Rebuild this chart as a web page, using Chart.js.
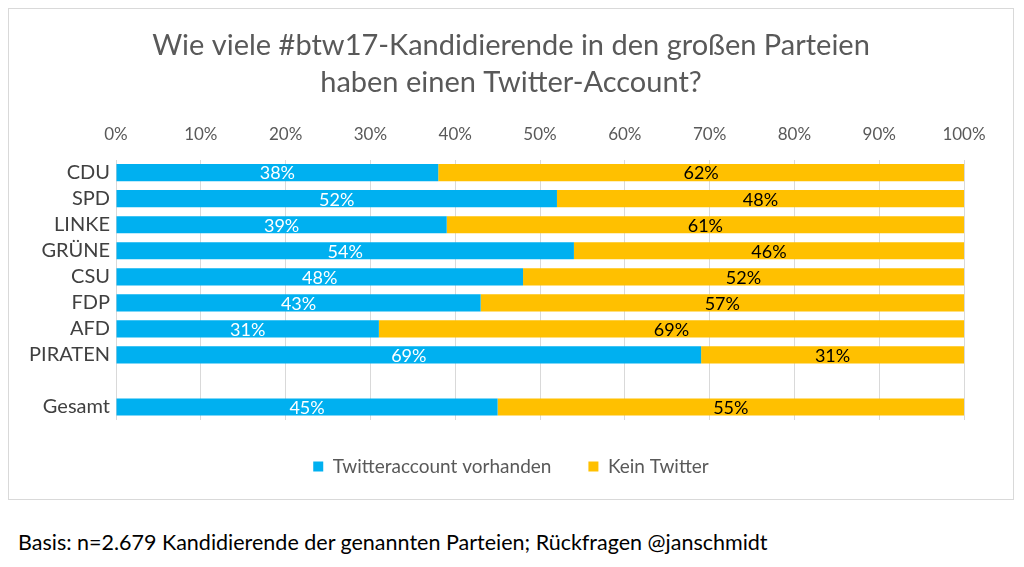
<!DOCTYPE html>
<html>
<head>
<meta charset="utf-8">
<script src="https://cdn.jsdelivr.net/npm/chart.js@4.4.0/dist/chart.umd.min.js"></script>
<style>
    body { margin: 0; background: #fff; width: 1024px; height: 567px; overflow: hidden; font-family: Lato, sans-serif; }
    #box { position: absolute; left: 8px; top: 8px; width: 1004px; height: 490px; border: 1px solid #d9d9d9; }
    #note { position: absolute; left: 18px; top: 529px; font-size: 21.5px; color: #000; }
</style>
</head>
<body>
<div id="box"><canvas id="bar-chart" width="1004" height="490"></canvas></div>
<div id="note">Basis: n=2.679 Kandidierende der genannten Parteien; Rückfragen @janschmidt</div>
<script>
var parties = ['CDU', 'SPD', 'LINKE', 'GRÜNE', 'CSU', 'FDP', 'AFD', 'PIRATEN', '', 'Gesamt'];
var withTwitter = [38, 52, 39, 54, 48, 43, 31, 69, null, 45];
var noTwitter = [62, 48, 61, 46, 52, 57, 69, 31, null, 55];
var xTicks = [0, 10, 20, 30, 40, 50, 60, 70, 80, 90, 100];

var labelColors = ['#ffffff', '#000000'];

// writes the % value in the middle of each bar
var barLabels = {
    id: 'barLabels',
    afterDatasetsDraw(chart) {
        var ctx = chart.ctx;
        ctx.save();
        ctx.font = '18px Lato';
        ctx.textAlign = 'center';
        ctx.textBaseline = 'middle';
        chart.data.datasets.forEach((ds, i) => {
            chart.getDatasetMeta(i).data.forEach((bar, j) => {
                if (ds.data[j] == null) return;
                var p = bar.getProps(['x', 'y', 'base'], true);
                ctx.fillStyle = labelColors[i];
                ctx.fillText(ds.data[j] + '%', (p.x + p.base) / 2, p.y + 1);
            });
        });
        ctx.restore();
    }
};

var ctx = document.getElementById('bar-chart').getContext('2d');
var twitterChart = new Chart(ctx, {
    type: 'bar',
    data: {
        labels: parties,
        datasets: [{
            label: 'Twitteraccount vorhanden',
            data: withTwitter,
            backgroundColor: '#00B0F0',
            borderWidth: 0
        }, {
            label: 'Kein Twitter',
            data: noTwitter,
            backgroundColor: '#FFC000',
            borderWidth: 0
        }]
    },
    options: {
        indexAxis: 'y',
        responsive: false,
        animation: false,
        layout: { padding: { left: 0, right: 0, top: 0, bottom: 13 } },
        scales: {
            x: {
                position: 'top',
                stacked: true,
                min: 0,
                max: 100,
                afterBuildTicks: (scale) => { scale.ticks = xTicks.map(v => ({ value: v })); },
                ticks: {
                    callback: (v) => v + '%',
                    color: '#595959',
                    font: { family: 'Lato', size: 17 },
                    padding: 15
                },
                grid: { color: '#d9d9d9', drawTicks: false },
                border: { display: false }
            },
            y: {
                stacked: true,
                afterFit: (scale) => { scale.width = 107; },
                ticks: {
                    color: '#404040',
                    font: { family: 'Lato', size: 20 },
                    padding: 6,
                    autoSkip: false
                },
                grid: { display: false, drawTicks: false },
                border: { display: false }
            },
            // empty axis on the right, only keeps space free
            yRight: {
                position: 'right',
                afterFit: (scale) => { scale.width = 49; },
                ticks: { display: false },
                grid: { display: false, drawTicks: false },
                border: { display: false }
            }
        },
        datasets: { bar: { categoryPercentage: 0.66, barPercentage: 1 } },
        plugins: {
            title: {
                display: true,
                text: ['Wie viele #btw17-Kandidierende in den großen Parteien', 'haben einen Twitter-Account?'],
                color: '#595959',
                font: { family: 'Lato', size: 29, weight: 'normal', lineHeight: 1.28 },
                padding: { top: 18, bottom: 8 }
            },
            legend: {
                position: 'bottom',
                labels: {
                    boxWidth: 10,
                    boxHeight: 10,
                    color: '#595959',
                    font: { family: 'Lato', size: 19 },
                    padding: 37
                }
            },
            tooltip: { enabled: false }
        }
    },
    plugins: [barLabels]
});
</script>
</body>
</html>
